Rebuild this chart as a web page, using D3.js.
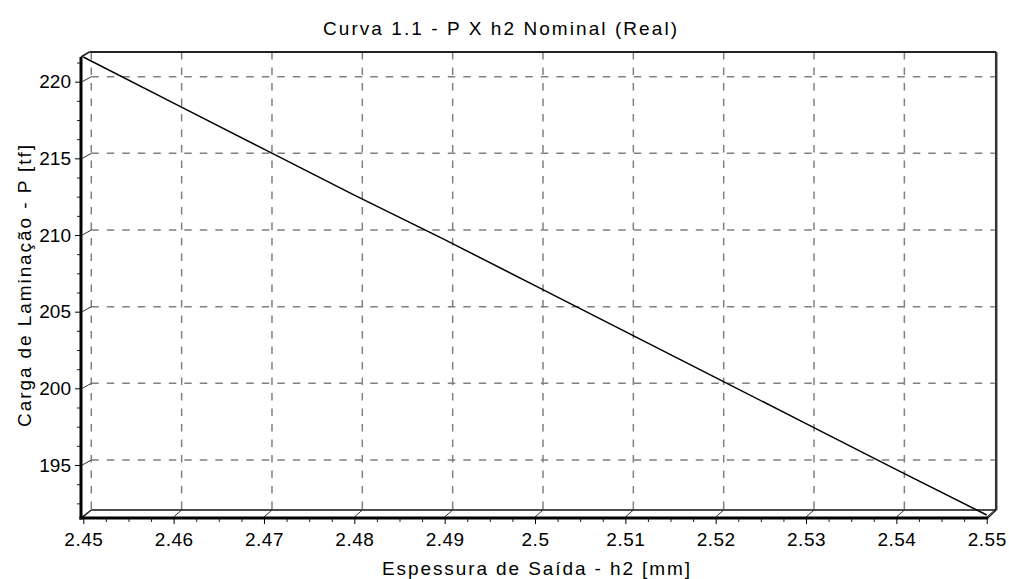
<!DOCTYPE html>
<html>
<head>
<meta charset="utf-8">
<script src="https://cdn.jsdelivr.net/npm/d3@7"></script>
<style>
  html, body { margin: 0; padding: 0; background: #fff; }
  svg { display: block; font-family: "Liberation Sans", Arial, sans-serif; }
</style>
</head>
<body>
<svg id="chart" width="1009" height="579"></svg>
<script>
// ---- data ----
const titleText = "Curva 1.1 - P X h2 Nominal (Real)";
const xTitle = "Espessura de Saída - h2 [mm]";
const yTitle = "Carga de Laminação - P [tf]";
const h2 = [2.45, 2.46, 2.47, 2.48, 2.49, 2.50, 2.51, 2.52, 2.53, 2.54, 2.55];
const P  = [221.61, 218.6, 215.6, 212.6, 209.7, 206.7, 203.7, 200.7, 197.7, 194.7, 191.74];
const xTicks = [2.45, 2.46, 2.47, 2.48, 2.49, 2.50, 2.51, 2.52, 2.53, 2.54, 2.55];
const xTickLabels = ["2.45", "2.46", "2.47", "2.48", "2.49", "2.5", "2.51", "2.52", "2.53", "2.54", "2.55"];
const yTicks = [195, 200, 205, 210, 215, 220];

// ---- layout ----
const svg = d3.select("#chart");
const front = { left: 83.3, right: 986.7, top: 57, bottom: 515 };
const depth = { dx: 8, dy: -5 };

const x = d3.scaleLinear().domain(d3.extent(h2)).range([front.left, front.right]);
const y = d3.scaleLinear().domain(d3.extent(P)).range([front.bottom, front.top]);

const bx = v => x(v) + depth.dx;   // back-wall x
const by = v => y(v) + depth.dy;   // back-wall y
const back = { left: front.left + depth.dx, right: front.right + depth.dx,
               top: front.top + depth.dy, bottom: front.bottom + depth.dy };

const gridColor = "#808080";

// minor ticks (3 between majors)
const xMinor = [];
for (let i = 0; i < xTicks.length - 1; i++)
  for (let k = 1; k < 4; k++) xMinor.push(xTicks[i] + (xTicks[i+1] - xTicks[i]) * k / 4);
const yMinor = [];
const yAll = [190].concat(yTicks);
for (let i = 0; i < yAll.length - 1; i++)
  for (let k = 1; k < 4; k++) {
    const v = yAll[i] + (yAll[i+1] - yAll[i]) * k / 4;
    if (v >= y.domain()[0] && v <= y.domain()[1]) yMinor.push(v);
  }
for (let k = 1; k < 4; k++) {
  const v = 220 + 5 * k / 4;
  if (v <= y.domain()[1]) yMinor.push(v);
}

// ---- back-wall grid ----
const grid = svg.append("g");
grid.selectAll("line.hg").data(yTicks).join("line")
  .attr("x1", back.left).attr("x2", back.right)
  .attr("y1", d => by(d)).attr("y2", d => by(d))
  .attr("stroke", gridColor).attr("stroke-width", 1.5).attr("stroke-dasharray", "7.5,8");
grid.selectAll("line.vg").data(xTicks.slice(0, -1)).join("line")
  .attr("x1", d => bx(d)).attr("x2", d => bx(d))
  .attr("y1", back.top).attr("y2", back.bottom)
  .attr("stroke", gridColor).attr("stroke-width", 1.5).attr("stroke-dasharray", "7.5,8");

// small depth connectors at major ticks
grid.selectAll("line.xd").data(xTicks).join("line")
  .attr("x1", d => x(d)).attr("y1", front.bottom + 2)
  .attr("x2", d => bx(d)).attr("y2", back.bottom)
  .attr("stroke", "#333").attr("stroke-width", 1);
grid.selectAll("line.yd").data(yTicks).join("line")
  .attr("x1", front.left - 1).attr("y1", d => y(d))
  .attr("x2", back.left).attr("y2", d => by(d))
  .attr("stroke", "#333").attr("stroke-width", 1);

// ---- back wall frame ----
const frame = svg.append("g").attr("fill", "none");
frame.append("line").attr("x1", back.left - 2).attr("x2", back.right + 1.5)
  .attr("y1", back.top).attr("y2", back.top).attr("stroke", "#222").attr("stroke-width", 2);
frame.append("line").attr("x1", back.right + 1.5).attr("x2", back.right + 1.5)
  .attr("y1", back.top).attr("y2", back.bottom).attr("stroke", "#333").attr("stroke-width", 2.5);
frame.append("line").attr("x1", back.left).attr("x2", back.right + 1.5)
  .attr("y1", back.bottom).attr("y2", back.bottom).attr("stroke", "#111").attr("stroke-width", 1.5);
// corner diagonals
frame.append("line").attr("x1", 81).attr("y1", front.top).attr("x2", back.left - 2).attr("y2", back.top)
  .attr("stroke", "#222").attr("stroke-width", 1.5);
frame.append("line").attr("x1", 81).attr("y1", 518).attr("x2", back.left).attr("y2", back.bottom)
  .attr("stroke", "#222").attr("stroke-width", 1.5);
frame.append("line").attr("x1", front.right + 1).attr("y1", 518).attr("x2", back.right + 1.5).attr("y2", back.bottom)
  .attr("stroke", "#222").attr("stroke-width", 1.5);

// ---- series line ----
const pts = h2.map((d, i) => [d, P[i]]);
svg.append("path").datum(pts)
  .attr("d", d3.line().x(d => x(d[0])).y(d => y(d[1])))
  .attr("fill", "none").attr("stroke", "#000").attr("stroke-width", 1.5);

// ---- axes ----
const fontSize = 19;
// bottom axis
const xAxisG = svg.append("g").attr("transform", "translate(0,518)");
xAxisG.call(d3.axisBottom(x).tickValues(xMinor).tickSize(4).tickFormat(""))
  .call(g => g.select(".domain").remove())
  .call(g => g.selectAll(".tick line").attr("stroke", "#222"));
const xMajor = svg.append("g").attr("transform", "translate(0,518)");
xMajor.call(d3.axisBottom(x).tickValues(xTicks).tickSize(6).tickPadding(9)
    .tickFormat((d, i) => xTickLabels[i]))
  .call(g => g.select(".domain").remove())
  .call(g => g.selectAll(".tick line").attr("stroke", "#000"))
  .call(g => g.selectAll(".tick text").attr("font-size", fontSize).attr("fill", "#000")
      .attr("font-family", "Liberation Sans, Arial, sans-serif").attr("letter-spacing", 0.5));
svg.append("line").attr("x1", 79.5).attr("x2", front.right + 1.5).attr("y1", 518).attr("y2", 518)
  .attr("stroke", "#000").attr("stroke-width", 3);

// left axis
const yAxisMinor = svg.append("g").attr("transform", "translate(81,0)");
yAxisMinor.call(d3.axisLeft(y).tickValues(yMinor).tickSize(4).tickFormat(""))
  .call(g => g.select(".domain").remove())
  .call(g => g.selectAll(".tick line").attr("stroke", "#222"));
const yAxisG = svg.append("g").attr("transform", "translate(81,0)");
yAxisG.call(d3.axisLeft(y).tickValues(yTicks).tickSize(6).tickPadding(4).tickFormat(d3.format("d")))
  .call(g => g.select(".domain").remove())
  .call(g => g.selectAll(".tick line").attr("stroke", "#000"))
  .call(g => g.selectAll(".tick text").attr("font-size", fontSize).attr("fill", "#000")
      .attr("font-family", "Liberation Sans, Arial, sans-serif"));
svg.append("line").attr("x1", 81).attr("x2", 81).attr("y1", front.top).attr("y2", 519.5)
  .attr("stroke", "#000").attr("stroke-width", 3);

// ---- titles ----
svg.append("text").attr("x", 500).attr("y", 35).attr("text-anchor", "middle")
  .attr("font-size", fontSize).attr("fill", "#000")
  .attr("textLength", 354).attr("lengthAdjust", "spacing").text(titleText);
svg.append("text").attr("x", 536).attr("y", 575).attr("text-anchor", "middle")
  .attr("font-size", fontSize).attr("fill", "#000")
  .attr("textLength", 308).attr("lengthAdjust", "spacing").text(xTitle);
svg.append("text").attr("transform", "translate(31,286) rotate(-90)").attr("text-anchor", "middle")
  .attr("font-size", fontSize).attr("fill", "#000")
  .attr("textLength", 282).attr("lengthAdjust", "spacing").text(yTitle);
</script>
</body>
</html>
